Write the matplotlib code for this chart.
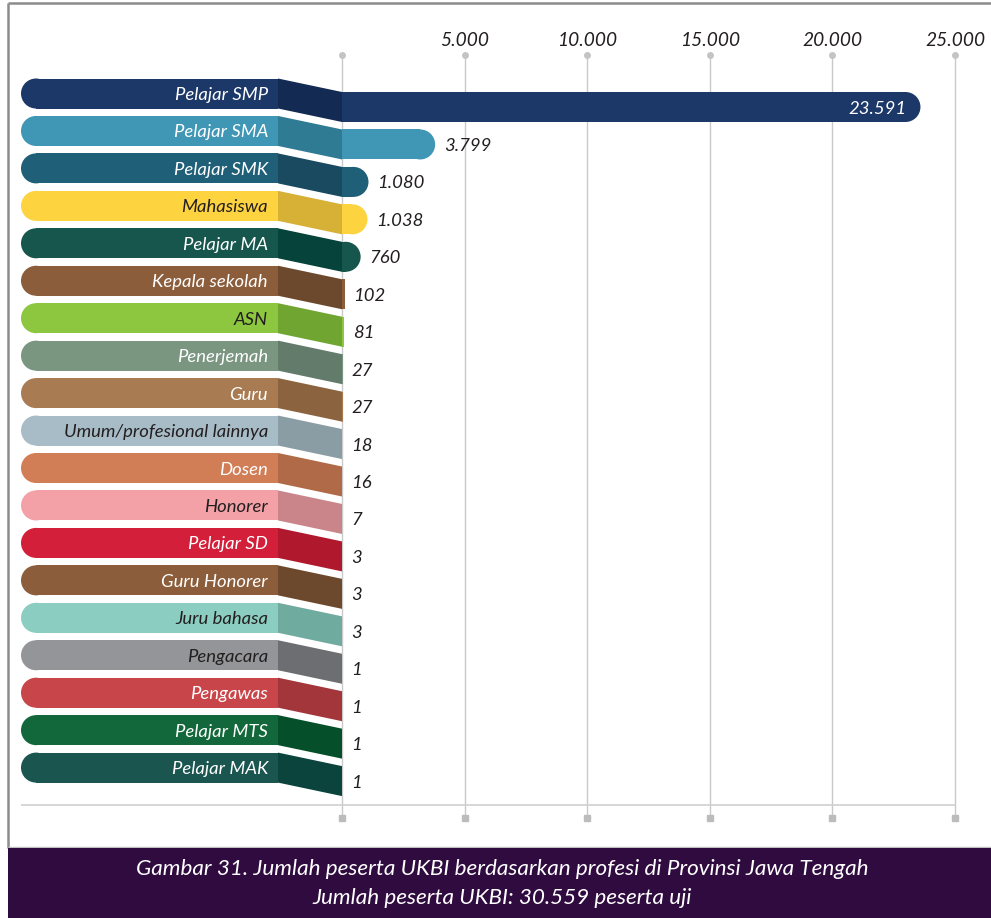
import matplotlib
matplotlib.use("Agg")
import matplotlib.pyplot as plt
from matplotlib.patches import Ellipse, Polygon, Rectangle

# ── Data ──────────────────────────────────────────────────────
labels = ["Pelajar SMP", "Pelajar SMA", "Pelajar SMK", "Mahasiswa", "Pelajar MA",
          "Kepala sekolah", "ASN", "Penerjemah", "Guru", "Umum/profesional lainnya",
          "Dosen", "Honorer", "Pelajar SD", "Guru Honorer", "Juru bahasa",
          "Pengacara", "Pengawas", "Pelajar MTS", "Pelajar MAK"]
values = [23591, 3799, 1080, 1038, 760, 102, 81, 27, 27, 18, 16, 7, 3, 3, 3, 1, 1, 1, 1]
ticks = [0, 5000, 10000, 15000, 20000, 25000]
caption = ["Gambar 31. Jumlah peserta UKBI berdasarkan profesi di Provinsi Jawa Tengah",
           "Jumlah peserta UKBI: 30.559 peserta uji"]

# ── Styles ────────────────────────────────────────────────────
pill_colors = ["#1c3868", "#3f96b5", "#1f5f78", "#fed340", "#17564d",
               "#8b5d3b", "#8dc63f", "#7a9580", "#a87b52", "#a7bcc6",
               "#d17d56", "#f4a0a7", "#d31f3a", "#8b5d3b", "#8bcdc0",
               "#939598", "#c8464a", "#12683a", "#1a5550"]
fold_colors = ["#132a52", "#2f7b93", "#1a4a5f", "#d6b135", "#06433a",
               "#6c492c", "#70a532", "#627b6b", "#8b643f", "#8a9da5",
               "#b06a48", "#ca858a", "#b0182e", "#6c492c", "#6fab9f",
               "#6d6e72", "#a3363a", "#054f2a", "#0b443d"]
dark_text = {"Mahasiswa", "ASN", "Umum/profesional lainnya", "Honorer",
             "Juru bahasa", "Pengacara"}
TEXT_DARK = "#231f20"
FONT = dict(family="Lato", style="italic")
FS = 13.3

# layout in pixels (figure is 991 x 918 at dpi 100)
W, H = 991, 918
ZERO_PX, FULL_PX = 342, 955
ROW0, ROW_STEP = 93.5, 37.45
PILL_H, BAR_DROP = 30, 13.5
PILL_L, PILL_R = 21, 278

kx = ticks[-1] / (FULL_PX - ZERO_PX)


def xd(px):
    return (px - ZERO_PX) * kx


def yd(py):
    return (py - ROW0) / ROW_STEP


def fmt(v):
    return f"{v:,}".replace(",", ".")


fig = plt.figure(figsize=(W / 100, H / 100), dpi=100)
ax = fig.add_axes([0, 0, 1, 1])
ax.set_xlim(xd(0), xd(W))
ax.set_ylim(yd(H), yd(0))
ax.axis("off")

h = PILL_H / ROW_STEP
r = PILL_H / 2

# ── Grid & axis decorations ───────────────────────────────────
ax.vlines(ticks, yd(57), yd(818), color="#c9c9c9", lw=1, zorder=0)
ax.plot(ticks, [yd(55)] * len(ticks), "o", ms=4, color="#c4c4c4", zorder=0)
ax.plot(ticks, [yd(818)] * len(ticks), "s", ms=4.5, color="#bcbcbc", zorder=0)
ax.hlines(yd(805), xd(PILL_L), ticks[-1], color="#d0d0d0", lw=1.2, zorder=0)
for t in ticks[1:]:
    ax.text(t, yd(40), fmt(t), ha="center", va="center", fontsize=FS + 0.5,
            color=TEXT_DARK, **FONT)

# ── Rows ──────────────────────────────────────────────────────
for i, (lab, v) in enumerate(zip(labels, values)):
    pc, fc = pill_colors[i], fold_colors[i]
    by = i + BAR_DROP / ROW_STEP

    # label pill (rounded left end)
    ax.add_patch(Rectangle((xd(PILL_L + r), i - h / 2), xd(PILL_R) - xd(PILL_L + r), h,
                           color=pc, lw=0, zorder=2))
    ax.add_patch(Ellipse((xd(PILL_L + r), i), 2 * r * kx, h, color=pc, lw=0, zorder=2))
    # folded connector
    ax.add_patch(Polygon([(xd(PILL_R), i - h / 2), (0, by - h / 2),
                          (0, by + h / 2), (xd(PILL_R), i + h / 2)],
                         closed=True, color=fc, lw=0, zorder=2))
    # value bar (rounded right end when long enough)
    if v / kx > r:
        ax.barh(by, v - r * kx, height=h, left=0, color=pc, lw=0, zorder=2)
        cap = Ellipse((v - r * kx, by), 2 * r * kx, h, color=pc, lw=0, zorder=2)
        ax.add_patch(cap)
        clip = Rectangle((0, by - h), v * 2, 2 * h, transform=ax.transData)
        cap.set_clip_path(clip)
    else:
        ax.barh(by, v, height=h, left=0, color=pc, lw=0, zorder=2)

    ax.text(xd(268), i, lab, ha="right", va="center_baseline", fontsize=FS,
            color=TEXT_DARK if lab in dark_text else "white", zorder=3, **FONT)

    if v == max(values):
        ax.text(v - 14 * kx, by, fmt(v), ha="right", va="center_baseline",
                fontsize=FS, color="white", zorder=3, **FONT)
    else:
        ax.text(v + 9 * kx, by, fmt(v), ha="left", va="center_baseline",
                fontsize=FS, color=TEXT_DARK, zorder=3, **FONT)

# ── Frame & caption band ──────────────────────────────────────
ax.hlines(yd(3), xd(8), xd(W), color="#8c8c8c", lw=1.8, zorder=1)
ax.vlines(xd(8), yd(3), yd(848), color="#8c8c8c", lw=1.8, zorder=1)
ax.hlines(yd(847), xd(8), xd(W), color="#bfbfbf", lw=1, zorder=1)
ax.add_patch(Rectangle((xd(8), yd(848)), xd(W) - xd(8), yd(H + 5) - yd(848),
                       color="#2f0b3f", lw=0, zorder=1))
ax.text(xd(502), yd(869), caption[0], ha="center", va="center", fontsize=16.2,
        color="white", **FONT)
ax.text(xd(502), yd(898), caption[1], ha="center", va="center", fontsize=16.2,
        color="white", **FONT)

fig.savefig("out.png", dpi=100)
